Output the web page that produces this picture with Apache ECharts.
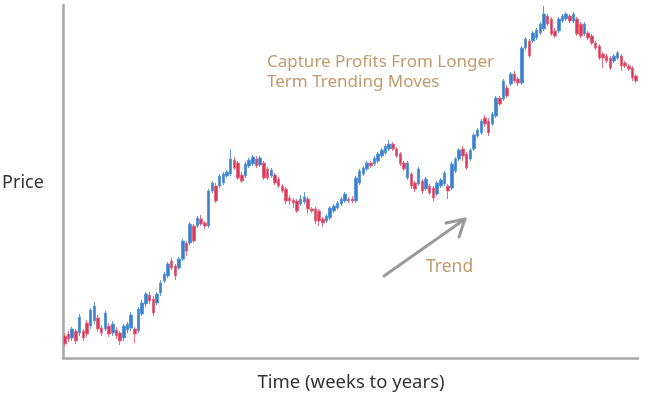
<!DOCTYPE html>
<html>
<head>
<meta charset="utf-8">
<script src="https://cdn.jsdelivr.net/npm/echarts@6/dist/echarts.min.js"></script>
<style>html,body{margin:0;padding:0;background:#fff}#c{width:651px;height:398px}</style>
</head>
<body>
<div id="c"></div>
<script>
// Candles: [open, close, low, high] in arbitrary price units
const opens  = [22,24,20,27,25,27,35,32,37,40,30,29,32,25,28,25,20,28,30,29,27,44,54,63,59,55,65,77,82,97,92,90,99,115,115,132,132,139,135,132,167,172,172,175,182,184,198,195,183,182,192,194,199,193,195,189,182,183,179,172,169,160,158,157,154,156,159,149,149,147,139,137,140,147,150,154,157,159,159,157,175,184,189,195,194,197,202,205,209,214,209,204,195,180,184,175,174,177,169,172,170,164,172,174,172,170,187,199,209,204,199,209,222,225,240,237,234,242,260,259,270,274,284,279,275,310,317,317,320,325,329,342,339,327,327,337,339,342,337,339,334,324,325,322,315,312,304,302,300,297,300,302,295,292,290,282];
const closes = [14,19,29,17,41,20,24,48,52,29,25,45,24,34,22,17,32,34,43,24,49,55,64,57,45,64,75,84,94,90,82,99,117,107,134,117,140,134,132,167,175,157,182,184,186,199,190,180,177,194,198,201,192,200,180,180,188,175,172,167,157,157,155,147,159,161,149,147,137,137,135,142,150,152,155,159,164,157,157,180,187,190,195,192,200,204,208,212,214,209,202,194,189,195,172,169,189,167,179,165,160,175,178,185,167,194,199,208,202,190,208,223,228,237,234,225,244,260,254,277,262,284,277,275,310,319,302,325,328,334,344,334,324,322,339,342,344,337,344,324,322,334,320,315,310,300,300,297,290,302,305,292,292,289,280,277];
const lows   = [11,16,17,14,22,17,21,29,34,26,22,27,21,22,19,13,17,25,27,15,25,42,51,54,42,53,62,75,80,88,78,88,97,102,113,115,130,132,129,130,165,155,170,173,180,182,188,178,175,180,190,192,190,191,178,178,180,173,170,165,154,153,150,145,152,154,144,145,134,132,131,135,138,145,148,152,155,155,155,155,173,182,187,190,192,195,200,203,207,207,200,192,187,178,169,166,172,164,167,163,157,162,170,172,159,168,185,197,197,188,197,207,220,223,231,222,232,240,252,257,260,272,275,272,273,308,300,315,318,323,327,332,322,320,325,335,337,335,335,322,320,322,318,313,308,298,290,295,288,295,298,287,290,287,277,275];
const highs  = [25,27,31,29,44,29,38,50,56,43,33,47,35,37,31,27,34,36,46,31,51,58,66,66,62,66,78,86,96,100,94,101,119,117,136,134,142,143,137,169,177,175,184,186,188,209,201,197,186,196,200,203,202,202,197,191,190,185,181,174,171,163,160,159,163,166,161,151,151,149,141,144,152,154,157,161,166,161,162,182,189,192,197,197,202,206,210,214,218,216,211,206,197,197,186,177,191,179,181,174,172,177,180,187,174,196,201,210,212,206,210,225,230,239,243,240,246,262,262,279,273,286,287,281,312,321,319,327,330,336,352,344,341,330,341,344,346,344,346,341,336,336,327,324,317,314,306,304,302,304,307,304,297,294,292,284];
const categories = opens.map((_, i) => 'W' + (i + 1));
const axisTitleX = 'Time (weeks to years)';
const axisTitleY = 'Price';
const noteLines = ['Capture Profits From Longer', 'Term Trending Moves'];
const trendLabel = 'Trend';

const candleData = opens.map((o, i) => [o, closes[i], lows[i], highs[i]]);

const chart = echarts.init(document.getElementById('c'), null, {renderer: 'canvas'});
const font = '"Noto Sans", sans-serif';
chart.setOption({
  animation: false,
  backgroundColor: '#ffffff',
  grid: {left: 63, right: 13, top: 5, bottom: 40},
  xAxis: {
    type: 'category', data: categories, boundaryGap: true,
    axisLine: {show: true, lineStyle: {color: '#a8a8a8', width: 2.5}},
    axisTick: {show: false}, axisLabel: {show: false}, splitLine: {show: false}
  },
  yAxis: {
    type: 'value', min: 0, max: 353, scale: false,
    axisLine: {show: true, lineStyle: {color: '#a8a8a8', width: 2.5}},
    axisTick: {show: false}, axisLabel: {show: false}, splitLine: {show: false}
  },
  series: [{
    type: 'candlestick',
    data: candleData,
    barWidth: 3,
    itemStyle: {
      color: '#3780d0', borderColor: '#5f9bdb',
      color0: '#db3757', borderColor0: '#e46c83',
      borderWidth: 1
    }
  }],
  graphic: [
    {type: 'text', x: 23, y: 183, style: {text: axisTitleY, font: '18px ' + font, fill: '#333333', align: 'center', verticalAlign: 'middle'}},
    {type: 'text', x: 351, y: 383, style: {text: axisTitleX, font: '18.5px ' + font, fill: '#333333', align: 'center', verticalAlign: 'middle'}},
    {type: 'text', x: 267, y: 62, style: {text: noteLines[0], font: '17px ' + font, fill: '#c29a6e', verticalAlign: 'middle'}},
    {type: 'text', x: 267, y: 82, style: {text: noteLines[1], font: '17px ' + font, fill: '#c29a6e', verticalAlign: 'middle'}},
    {type: 'text', x: 426, y: 267, style: {text: trendLabel, font: '17.5px ' + font, fill: '#c29a6e', verticalAlign: 'middle'}},
    {type: 'line', shape: {x1: 384, y1: 276, x2: 465, y2: 219}, style: {stroke: '#9a9a9a', lineWidth: 3, lineCap: 'round'}},
    {type: 'polyline', shape: {points: [[446, 223], [465, 219], [459, 237]]}, style: {stroke: '#9a9a9a', lineWidth: 3, fill: null, lineCap: 'round', lineJoin: 'round'}}
  ]
});
</script>
</body>
</html>
